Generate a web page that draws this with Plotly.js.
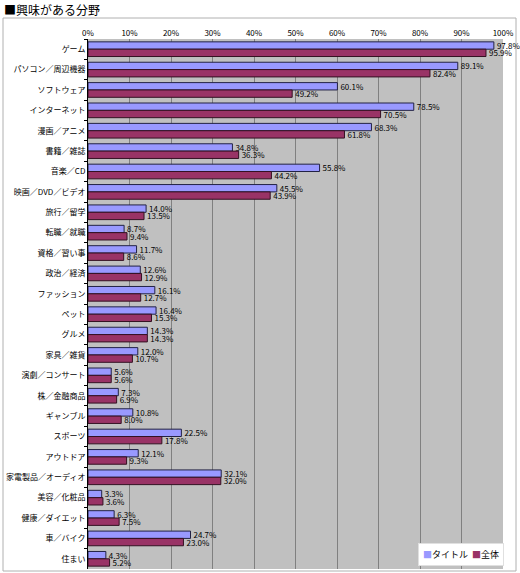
<!DOCTYPE html>
<html>
<head>
<meta charset="utf-8">
<script src="https://cdn.plot.ly/plotly-3.0.1.min.js"></script>
<style>
  html, body { margin: 0; padding: 0; background: #fff; }
  #chart { width: 520px; height: 573px; }
</style>
</head>
<body>
<div id="chart"></div>
<script>
// categories, top to bottom
const categories = [
  'ゲーム', 'パソコン／周辺機器', 'ソフトウェア', 'インターネット', '漫画／アニメ',
  '書籍／雑誌', '音楽／CD', '映画／DVD／ビデオ', '旅行／留学', '転職／就職',
  '資格／習い事', '政治／経済', 'ファッション', 'ペット', 'グルメ',
  '家具／雑貨', '演劇／コンサート', '株／金融商品', 'ギャンブル', 'スポーツ',
  'アウトドア', '家電製品／オーディオ', '美容／化粧品', '健康／ダイエット', '車／バイク',
  '住まい'
];

// % values, same order as categories
const titleVals = [
  97.8, 89.1, 60.1, 78.5, 68.3,
  34.8, 55.8, 45.5, 14.0, 8.7,
  11.7, 12.6, 16.1, 16.4, 14.3,
  12.0, 5.6, 7.3, 10.8, 22.5,
  12.1, 32.1, 3.3, 6.3, 24.7,
  4.3
];
const allVals = [
  95.9, 82.4, 49.2, 70.5, 61.8,
  36.3, 44.2, 43.9, 13.5, 9.4,
  8.6, 12.9, 12.7, 15.3, 14.3,
  10.7, 5.6, 6.9, 8.0, 17.8,
  9.3, 32.0, 3.6, 7.5, 23.0,
  5.2
];

const xTicks = [0, 10, 20, 30, 40, 50, 60, 70, 80, 90, 100];
const seriesNames = ['タイトル', '全体'];
const seriesColors = ['#9999ff', '#993366'];

const jp = '"MS PGothic", "Noto Sans CJK JP", sans-serif';
const fmt = (v) => v.toFixed(1) + '%';

const traces = [
  {
    type: 'bar', orientation: 'h',
    name: seriesNames[0],
    y: categories, x: titleVals,
    text: titleVals.map(fmt),
    textposition: 'outside', constraintext: 'none', cliponaxis: false,
    textfont: { family: jp, size: 8, color: '#000' },
    marker: { color: seriesColors[0], line: { color: '#222244', width: 1 } },
    hoverinfo: 'skip',
  },
  {
    type: 'bar', orientation: 'h',
    name: seriesNames[1],
    y: categories, x: allVals,
    text: allVals.map(fmt),
    textposition: 'outside', constraintext: 'none', cliponaxis: false,
    textfont: { family: jp, size: 8, color: '#000' },
    marker: { color: seriesColors[1], line: { color: '#331122', width: 1 } },
    hoverinfo: 'skip',
  },
];

// plot box is 88..503 x 39..569 px; helpers turn page pixels into paper units
const px = (v) => (v - 88) / 415;
const py = (v) => (569 - v) / 530;

// compact legend box like the original (small squares before each name)
const legendText = seriesNames
  .map((n, i) => `<span style="color:${seriesColors[i]}">■</span>${n}`)
  .join('  ');

const layout = {
  width: 520,
  height: 573,
  paper_bgcolor: '#fff',
  plot_bgcolor: '#c0c0c0',
  margin: { l: 88, r: 17, t: 39, b: 4 },
  barmode: 'group',
  bargap: 0.28,
  bargroupgap: 0,
  showlegend: false,
  font: { family: jp, size: 8, color: '#000' },
  xaxis: {
    side: 'top',
    range: [0, 100],
    tickvals: xTicks,
    ticktext: xTicks.map((t) => t + '%'),
    tickfont: { family: jp, size: 8, color: '#000' },
    showgrid: true,
    gridcolor: '#808080',
    gridwidth: 1,
    zeroline: false,
    showline: false,
    ticks: '',
    fixedrange: true,
  },
  yaxis: {
    type: 'category',
    autorange: 'reversed',
    tickfont: { family: jp, size: 8, color: '#000' },
    showline: true,
    linecolor: '#000',
    linewidth: 1,
    ticks: 'outside',
    tickson: 'boundaries',
    ticklen: 3,
    tickcolor: '#000',
    showgrid: false,
    fixedrange: true,
  },
  shapes: [
    {
      type: 'rect', xref: 'paper', yref: 'paper', layer: 'below',
      x0: px(3), x1: px(516), y0: py(571), y1: py(18),
      line: { color: '#b0b0b0', width: 1 },
    },
  ],
  annotations: [
    {
      text: '■興味がある分野',
      xref: 'paper', yref: 'paper',
      x: px(2), y: py(9),
      xanchor: 'left', yanchor: 'middle',
      showarrow: false,
      font: { family: jp, size: 12, color: '#000' },
    },
    {
      text: legendText,
      xref: 'paper', yref: 'paper',
      x: px(504), y: py(566),
      xanchor: 'right', yanchor: 'bottom',
      showarrow: false,
      bgcolor: '#fff',
      bordercolor: '#e0e0e0',
      borderwidth: 1,
      borderpad: 4,
      font: { family: jp, size: 9, color: '#000' },
    },
  ],
};

Plotly.newPlot('chart', traces, layout, { displayModeBar: false, staticPlot: true });
</script>
</body>
</html>
